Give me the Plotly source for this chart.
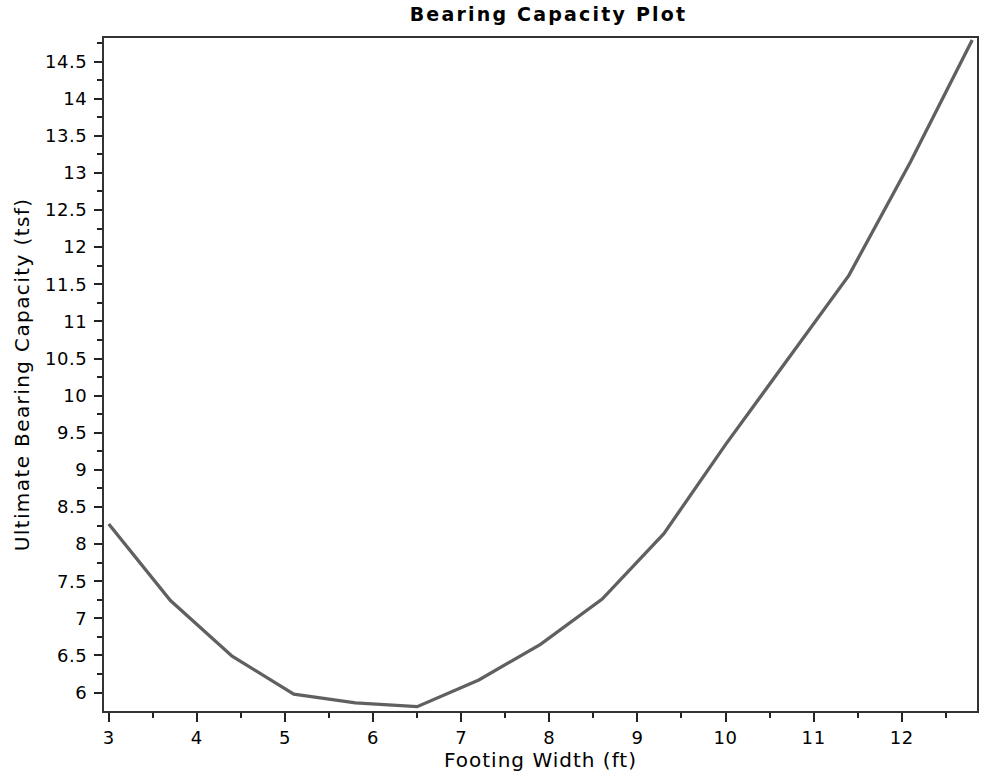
import plotly.graph_objects as go

footing_width = [3.0, 3.7, 4.4, 5.1, 5.8, 6.5, 7.2, 7.9, 8.6, 9.3, 10.0, 10.7, 11.4, 12.1, 12.8]
capacity = [8.27, 7.24, 6.49, 5.98, 5.86, 5.81, 6.17, 6.65, 7.26, 8.14, 9.34, 10.48, 11.62, 13.15, 14.79]

x_ticks = [3, 4, 5, 6, 7, 8, 9, 10, 11, 12]
y_ticks = [6 + 0.5 * i for i in range(18)]


def spaced(s, px):
    return f"<span style='letter-spacing:{px}px'>{s}</span>"


def fmt(v):
    return str(int(v)) if float(v).is_integer() else f"{v:g}"


fig = go.Figure()
fig.add_trace(go.Scatter(
    x=footing_width, y=capacity, mode="lines",
    line=dict(color="#606060", width=3.3),
    showlegend=False, hoverinfo="x+y",
))

font_family = "DejaVu Sans, Verdana, sans-serif"

fig.update_layout(
    width=983, height=776,
    margin=dict(l=104, r=4, t=38, b=65),
    paper_bgcolor="white", plot_bgcolor="white",
    title=dict(text="<b>" + spaced("Bearing Capacity Plot", 2.2) + "</b>", x=0.558, xanchor="center",
               y=0.982, yanchor="middle",
               font=dict(family=font_family, size=19, color="black")),
    font=dict(family=font_family, color="black"),
    xaxis=dict(
        range=[2.946, 12.854], tickvals=x_ticks,
        ticktext=[spaced(fmt(v), 0.6) for v in x_ticks],
        ticks="outside", ticklen=9,
        tickwidth=2, tickcolor="#222", showgrid=False, zeroline=False,
        showline=True, linecolor="#333", linewidth=2, mirror=True,
        tickfont=dict(size=18, family=font_family),
        minor=dict(dtick=0.5, tick0=3, ticks="outside", ticklen=5, tickwidth=2, tickcolor="#222", showgrid=False),
        title=dict(text=spaced("Footing Width (ft)", 1), font=dict(size=20, family=font_family), standoff=1),
    ),
    yaxis=dict(
        range=[5.752, 14.817], tickvals=y_ticks,
        ticktext=[spaced(fmt(v), 0.6) for v in y_ticks],
        ticks="outside", ticklen=8, ticklabelstandoff=3,
        tickwidth=2, tickcolor="#222", showgrid=False, zeroline=False,
        showline=True, linecolor="#333", linewidth=2, mirror=True,
        tickfont=dict(size=18, family=font_family),
        minor=dict(dtick=0.25, tick0=6, ticks="outside", ticklen=5, tickwidth=2, tickcolor="#222", showgrid=False),
        title=dict(text=spaced("Ultimate Bearing Capacity (tsf)", 1.4), font=dict(size=20, family=font_family), standoff=10),
    ),
)

fig.write_html("out.html")
